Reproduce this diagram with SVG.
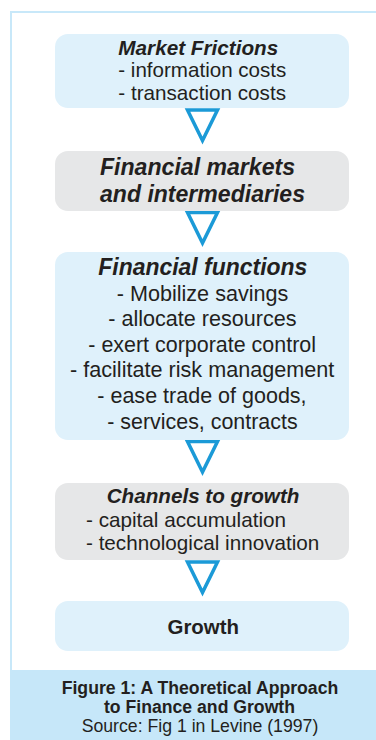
<svg xmlns="http://www.w3.org/2000/svg" width="376" height="740" viewBox="0 0 376 740">
  <style>
    .frame { fill: #ffffff; stroke: #c8e8f9; stroke-width: 2; }
    .band { fill: #c6e7f9; }
    .blue { fill: #dff1fb; }
    .grey { fill: #e6e7e8; }
    .arrow { fill: none; stroke: #1b9ad7; stroke-width: 3.5; stroke-linejoin: miter; }
    text { font-family: "Liberation Sans", Arial, sans-serif; fill: #231f20; }
    .title { font-weight: bold; font-style: italic; }
    .bold { font-weight: bold; }
  </style>

  <!-- outer frame and caption band -->
  <rect class="frame" x="11" y="12" width="380" height="740"/>
  <rect class="band" x="10" y="670" width="366" height="70"/>

  <!-- connectors: open downward triangles between stages -->
  <g id="connectors">
    <polygon class="arrow" points="187.5,110 217.5,110 202.5,140.5"/>
    <polygon class="arrow" points="187.5,212.5 217.5,212.5 202.5,243"/>
    <polygon class="arrow" points="187.5,441.5 217.5,441.5 202.5,472"/>
    <polygon class="arrow" points="187.5,562 217.5,562 202.5,592.5"/>
  </g>

  <g id="market-frictions">
    <rect class="blue" x="55" y="34" width="294" height="74" rx="13"/>
    <text class="title" x="118.3" y="55" font-size="20.7" textLength="160" lengthAdjust="spacingAndGlyphs">Market Frictions</text>
    <text x="118.3" y="77.3" font-size="20.7" textLength="168" lengthAdjust="spacingAndGlyphs">- information costs</text>
    <text x="118.3" y="100" font-size="20.7" textLength="167.7" lengthAdjust="spacingAndGlyphs">- transaction costs</text>
  </g>

  <g id="financial-markets">
    <rect class="grey" x="55" y="151" width="294" height="60" rx="13"/>
    <text class="title" x="100" y="175" font-size="23" textLength="195" lengthAdjust="spacingAndGlyphs">Financial markets</text>
    <text class="title" x="100" y="201.7" font-size="23" textLength="205" lengthAdjust="spacingAndGlyphs">and intermediaries</text>
  </g>

  <g id="financial-functions">
    <rect class="blue" x="55" y="252" width="294" height="188" rx="13"/>
    <text class="title" x="98.3" y="275" font-size="23" textLength="209" lengthAdjust="spacingAndGlyphs">Financial functions</text>
    <text x="116.7" y="300.5" font-size="21.6" textLength="171.7" lengthAdjust="spacingAndGlyphs">- Mobilize savings</text>
    <text x="108.3" y="326" font-size="21.6" textLength="188.3" lengthAdjust="spacingAndGlyphs">- allocate resources</text>
    <text x="88.3" y="351.5" font-size="21.6" textLength="227.7" lengthAdjust="spacingAndGlyphs">- exert corporate control</text>
    <text x="70" y="377" font-size="21.6" textLength="264.3" lengthAdjust="spacingAndGlyphs">- facilitate risk management</text>
    <text x="97.3" y="403" font-size="21.6" textLength="209.3" lengthAdjust="spacingAndGlyphs">- ease trade of goods,</text>
    <text x="107.3" y="428.5" font-size="21.6" textLength="190.3" lengthAdjust="spacingAndGlyphs">- services, contracts</text>
  </g>

  <g id="channels-to-growth">
    <rect class="grey" x="55" y="483" width="294" height="77" rx="13"/>
    <text class="title" x="106.7" y="503.3" font-size="20.6" textLength="192.7" lengthAdjust="spacingAndGlyphs">Channels to growth</text>
    <text x="86" y="527.3" font-size="20.7" textLength="200" lengthAdjust="spacingAndGlyphs">- capital accumulation</text>
    <text x="86" y="550" font-size="20.7" textLength="233.3" lengthAdjust="spacingAndGlyphs">- technological innovation</text>
  </g>

  <g id="growth">
    <rect class="blue" x="55" y="601" width="294" height="50" rx="13"/>
    <text class="bold" x="167.5" y="633.8" font-size="20.5" textLength="71.5" lengthAdjust="spacingAndGlyphs">Growth</text>
  </g>

  <g id="caption">
    <text class="bold" x="61.7" y="694.3" font-size="17.5" textLength="276.6" lengthAdjust="spacingAndGlyphs">Figure 1: A Theoretical Approach</text>
    <text class="bold" x="104" y="713.3" font-size="17.6" textLength="191" lengthAdjust="spacingAndGlyphs">to Finance and Growth</text>
    <text x="81.7" y="731.5" font-size="17.7" textLength="236.6" lengthAdjust="spacingAndGlyphs">Source: Fig 1 in Levine (1997)</text>
  </g>
</svg>
